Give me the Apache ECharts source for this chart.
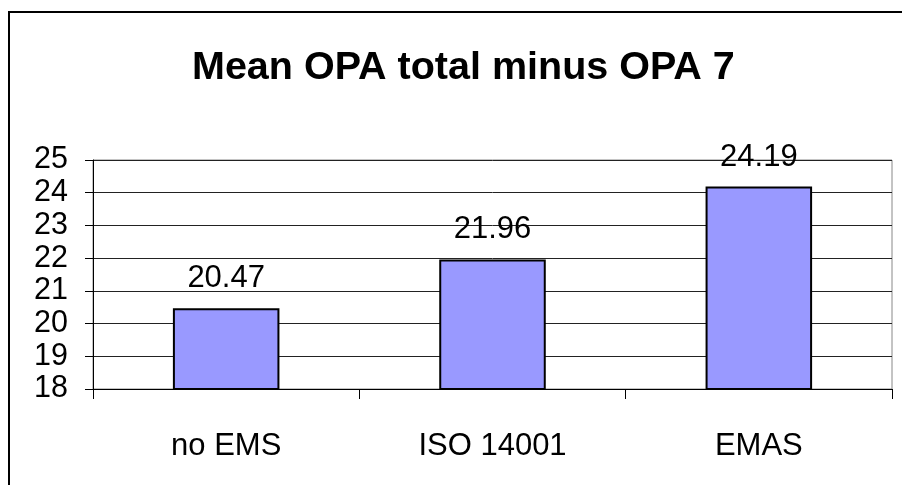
<!DOCTYPE html>
<html>
<head>
<meta charset="utf-8">
<script src="https://cdn.jsdelivr.net/npm/echarts@6/dist/echarts.min.js"></script>
<style>
  html, body { margin: 0; padding: 0; background: #fff; }
  #main { width: 902px; height: 485px; }
</style>
</head>
<body>
<div id="main"></div>
<script>
// data
var categories = ['no EMS', 'ISO 14001', 'EMAS'];
var meanValues = [20.47, 21.96, 24.19];
var yTicks = [18, 19, 20, 21, 22, 23, 24, 25];

var font = "'Liberation Sans', Arial, sans-serif";
var myChart = echarts.init(document.getElementById('main'));

var option = {
    backgroundColor: '#fff',
    animation: false,
    title: {
        text: 'Mean OPA total minus OPA 7',
        left: 192,
        top: 48,
        padding: 0,
        textStyle: { fontFamily: font, fontSize: 39.5, fontWeight: 'bold', color: '#000' }
    },
    graphic: [
        {
            type: 'rect',
            shape: { x: 9, y: 12, width: 960, height: 600 },
            style: { fill: 'none', stroke: '#000', lineWidth: 2 },
            silent: true
        }
    ],
    grid: {
        left: 93,
        right: 10,
        top: 160,
        bottom: 96,
        show: true,
        borderColor: '#888',
        borderWidth: 1,
        backgroundColor: 'transparent'
    },
    xAxis: {
        type: 'category',
        data: categories,
        axisLine: { lineStyle: { color: '#000', width: 1 } },
        axisTick: { show: true, length: 10, lineStyle: { color: '#000' } },
        axisLabel: { margin: 42, fontFamily: font, fontSize: 31, color: '#000' }
    },
    yAxis: {
        type: 'value',
        min: yTicks[0],
        max: yTicks[yTicks.length - 1],
        interval: 1,
        axisLine: { show: true, lineStyle: { color: '#000', width: 1 } },
        axisTick: { show: true, length: 8, lineStyle: { color: '#000' } },
        axisLabel: { margin: 25, padding: [6, 0, 0, 0], fontFamily: font, fontSize: 30.5, color: '#000' },
        splitLine: { show: true, lineStyle: { color: '#222', width: 1 } }
    },
    series: [
        {
            type: 'bar',
            data: meanValues,
            barWidth: '40%',
            itemStyle: { color: '#9999FF', borderColor: '#000', borderWidth: 2 },
            label: {
                show: true,
                position: 'top',
                distance: 14,
                fontFamily: font,
                fontSize: 31,
                color: '#000',
                formatter: function (p) { return p.value.toFixed(2); }
            }
        }
    ]
};
myChart.setOption(option);
</script>
</body>
</html>
